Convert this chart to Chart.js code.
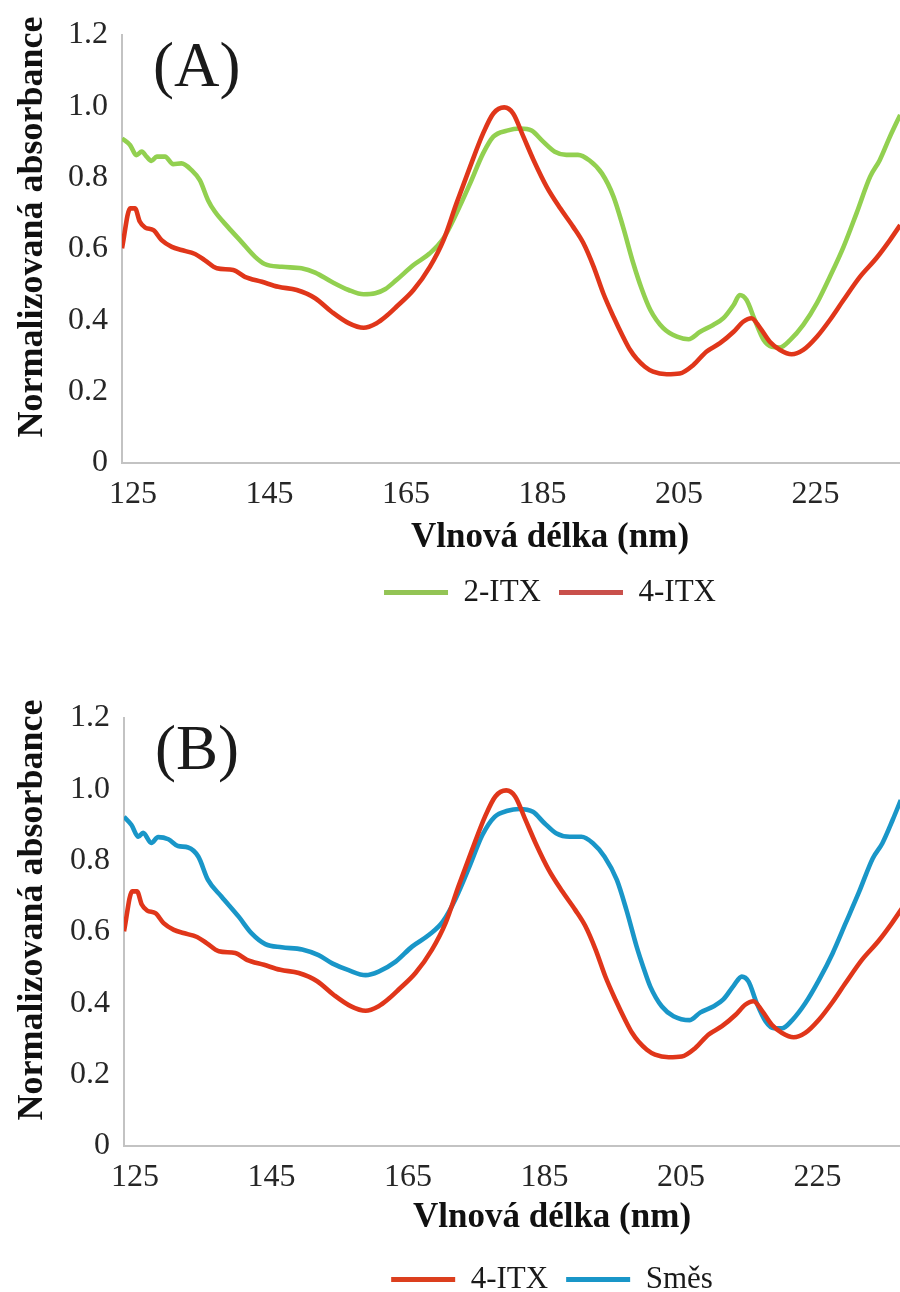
<!DOCTYPE html>
<html lang="cs">
<head>
<meta charset="utf-8">
<title>Normalizovaná absorbance – 2-ITX, 4-ITX a směs</title>
<script src="https://cdn.jsdelivr.net/npm/chart.js@4.4.1/dist/chart.umd.min.js"></script>
<style>
  html, body { margin: 0; padding: 0; background: #fff; width: 900px; height: 1292px; overflow: hidden; }
  .panel { position: absolute; left: 0; }
  #panelA { top: 0; }
  #panelB { top: 640px; }
</style>
</head>
<body>
<canvas id="panelA" class="panel" width="1000" height="640"></canvas>
<canvas id="panelB" class="panel" width="1000" height="680"></canvas>
<script>
// Spectra: wavelength (nm) and normalised absorbance for each sample
const wl2ITX = [123.4,124.6,125.5,126.3,127.0,127.7,128.5,129.7,130.9,132.1,133.6,134.8,136.0,137.0,138.9,140.9,142.9,144.3,146.8,149.7,151.7,154.1,156.6,158.8,160.5,162.0,163.6,166.1,168.5,170.5,172.4,174.4,176.3,177.8,179.8,181.7,183.4,185.1,186.8,188.5,190.2,191.9,193.7,195.4,196.8,198.3,199.5,200.8,202.7,204.7,206.4,208.1,210.0,211.5,213.0,213.9,214.9,216.1,217.4,218.6,219.8,221.3,223.2,225.2,227.1,229.1,231.0,233.0,234.4,235.9,237.4];
const abs2ITX = [0.910,0.891,0.863,0.873,0.859,0.847,0.859,0.859,0.838,0.840,0.821,0.793,0.737,0.705,0.662,0.620,0.578,0.558,0.550,0.546,0.534,0.508,0.485,0.473,0.476,0.488,0.513,0.555,0.588,0.630,0.700,0.784,0.868,0.915,0.932,0.938,0.932,0.901,0.873,0.864,0.864,0.848,0.812,0.747,0.662,0.560,0.490,0.429,0.378,0.354,0.347,0.368,0.387,0.406,0.443,0.471,0.457,0.401,0.345,0.326,0.324,0.345,0.387,0.448,0.522,0.606,0.700,0.803,0.849,0.915,0.976];

const wl4ITX = [123.4,124.6,125.3,126.0,126.8,128.0,129.2,130.7,132.1,134.1,135.5,137.3,139.7,141.4,143.9,146.3,149.0,151.7,154.1,156.6,158.8,160.7,162.0,163.6,166.1,168.5,170.5,172.4,174.4,176.3,177.8,179.4,180.7,182.2,183.7,185.6,187.6,189.5,191.0,192.5,193.9,195.4,196.8,197.8,198.8,200.0,201.2,203.2,205.1,207.1,209.0,211.0,213.0,214.4,215.6,216.9,218.3,219.8,221.5,223.2,225.2,227.1,229.1,231.5,233.9,235.9,237.4];
const abs4ITX = [0.602,0.714,0.714,0.677,0.660,0.653,0.625,0.606,0.597,0.586,0.569,0.546,0.541,0.522,0.508,0.494,0.485,0.462,0.424,0.392,0.379,0.392,0.410,0.438,0.485,0.550,0.625,0.728,0.831,0.924,0.980,0.997,0.980,0.915,0.849,0.775,0.714,0.662,0.616,0.550,0.476,0.410,0.354,0.318,0.292,0.270,0.256,0.249,0.251,0.275,0.312,0.336,0.368,0.396,0.406,0.378,0.340,0.317,0.305,0.317,0.354,0.401,0.457,0.522,0.574,0.625,0.667];

const wlSmes = [123.4,124.5,125.5,126.2,127.4,128.4,129.9,131.3,132.8,134.3,135.7,137.7,140.2,142.1,144.1,146.5,149.5,151.9,153.9,156.3,158.8,160.7,163.2,165.6,168.1,170.1,172.0,174.0,175.9,177.7,179.6,181.3,183.3,185.0,186.7,188.7,190.4,192.1,193.8,195.6,197.0,198.5,199.5,200.5,202.2,203.9,206.3,207.8,209.8,211.2,212.7,213.9,214.9,216.1,217.4,218.6,219.8,221.3,223.2,225.2,227.2,229.1,231.1,233.1,234.5,236.0,237.2];
const absSmes = [0.923,0.900,0.867,0.878,0.850,0.866,0.860,0.841,0.837,0.811,0.746,0.699,0.643,0.596,0.566,0.557,0.551,0.535,0.512,0.493,0.479,0.489,0.517,0.559,0.592,0.629,0.694,0.783,0.872,0.923,0.940,0.945,0.937,0.905,0.877,0.867,0.867,0.849,0.811,0.746,0.662,0.559,0.500,0.447,0.391,0.364,0.353,0.374,0.392,0.411,0.449,0.475,0.461,0.400,0.349,0.330,0.330,0.353,0.400,0.465,0.540,0.624,0.713,0.807,0.849,0.914,0.970];

// Axis ticks
const wavelengthTicks = [125, 145, 165, 185, 205, 225];
const absorbanceTicks = [0, 0.2, 0.4, 0.6, 0.8, 1.0, 1.2];
const absorbanceTickLabels = ['0', '0.2', '0.4', '0.6', '0.8', '1.0', '1.2'];

const SERIF = '"Liberation Serif", "Times New Roman", Times, serif';

function toPoints(xs, ys) {
  return xs.map((x, i) => ({ x: x, y: ys[i] }));
}

// Rotated y-axis caption and the panel letter inside the plot
const panelText = {
  id: 'panelText',
  afterDraw(chart, args, o) {
    const { ctx, chartArea } = chart;
    ctx.save();
    ctx.fillStyle = '#111';
    ctx.font = 'bold 36px ' + SERIF;
    ctx.textAlign = 'center';
    ctx.textBaseline = 'alphabetic';
    ctx.translate(o.captionX, (chartArea.top + chartArea.bottom) / 2 + o.captionShift);
    ctx.rotate(-Math.PI / 2);
    ctx.fillText(o.caption, 0, 0);
    ctx.restore();

    ctx.save();
    ctx.fillStyle = '#1a1a1a';
    ctx.font = '63px ' + SERIF;
    ctx.textAlign = 'left';
    ctx.textBaseline = 'alphabetic';
    ctx.fillText(o.tag, chartArea.left + o.tagDx, chartArea.top + o.tagDy);
    ctx.restore();
  }
};

function makePanel(id, cfg) {
  return new Chart(document.getElementById(id), {
    type: 'line',
    data: { datasets: cfg.datasets },
    plugins: [panelText],
    options: {
      responsive: false,
      animation: false,
      devicePixelRatio: 1,
      layout: { padding: { top: cfg.padTop, right: cfg.padRight, bottom: cfg.padBottom, left: 0 } },
      elements: {
        point: { radius: 0, hoverRadius: 0 },
        line: { borderWidth: 4.6, cubicInterpolationMode: 'monotone', capBezierPoints: true }
      },
      scales: {
        x: {
          type: 'linear',
          min: 123.4,
          max: 248.8,
          grid: { display: false, drawTicks: false },
          border: { display: true, color: '#c3c3c3', width: 2 },
          afterBuildTicks: (scale) => { scale.ticks = wavelengthTicks.map(v => ({ value: v })); },
          afterFit: (scale) => { scale.height = cfg.xAxisHeight; },
          ticks: {
            autoSkip: false, maxRotation: 0, padding: 12, color: '#262626',
            font: { family: SERIF, size: 32 },
            callback: (v) => String(v)
          },
          title: {
            display: true, text: 'Vlnová délka (nm)', color: '#111',
            font: { family: SERIF, size: 35, weight: 'bold' },
            padding: { top: 0, bottom: cfg.xTitlePad }
          }
        },
        y: {
          type: 'linear',
          min: 0,
          max: 1.2,
          grid: { display: false, drawTicks: false },
          border: { display: true, color: '#c3c3c3', width: 2 },
          afterBuildTicks: (scale) => { scale.ticks = absorbanceTicks.map(v => ({ value: v })); },
          afterFit: (scale) => { scale.width = cfg.axisLeft; },
          ticks: {
            padding: 14, color: '#262626',
            font: { family: SERIF, size: 32 },
            callback: (v) => absorbanceTickLabels[absorbanceTicks.indexOf(v)]
          }
        }
      },
      plugins: {
        tooltip: { enabled: false },
        legend: {
          position: 'bottom',
          fullSize: false,
          labels: {
            color: '#1a1a1a',
            font: { family: SERIF, size: 31 },
            boxWidth: 64,
            boxHeight: 5,
            padding: 18,
            sort: (a, b) => a.datasetIndex - b.datasetIndex,
            generateLabels: (chart) =>
              Chart.defaults.plugins.legend.labels.generateLabels(chart).map(item => Object.assign(item, {
                fillStyle: chart.data.datasets[item.datasetIndex].backgroundColor,
                lineWidth: 0
              }))
          }
        },
        panelText: {
          caption: 'Normalizovaná absorbance',
          captionX: 42,
          captionShift: -22,
          tag: cfg.tag,
          tagDx: 31,
          tagDy: 51
        }
      }
    }
  });
}

makePanel('panelA', {
  tag: '(A)', axisLeft: 122, padTop: 35, padRight: 22, padBottom: 22, xAxisHeight: 96, xTitlePad: 0,
  datasets: [
    { label: '2-ITX', data: toPoints(wl2ITX, abs2ITX), borderColor: '#92d050', backgroundColor: '#93c455', order: 2 },
    { label: '4-ITX', data: toPoints(wl4ITX, abs4ITX), borderColor: '#e0361a', backgroundColor: '#c9504b', order: 1 }
  ]
});

makePanel('panelB', {
  tag: '(B)', axisLeft: 124, padTop: 78, padRight: 20, padBottom: 15, xAxisHeight: 100, xTitlePad: 7,
  datasets: [
    { label: '4-ITX', data: toPoints(wl4ITX, abs4ITX), borderColor: '#e0361a', backgroundColor: '#dc3f1e' },
    { label: 'Směs', data: toPoints(wlSmes, absSmes), borderColor: '#1996c8', backgroundColor: '#1996c8' }
  ]
});
</script>
</body>
</html>
